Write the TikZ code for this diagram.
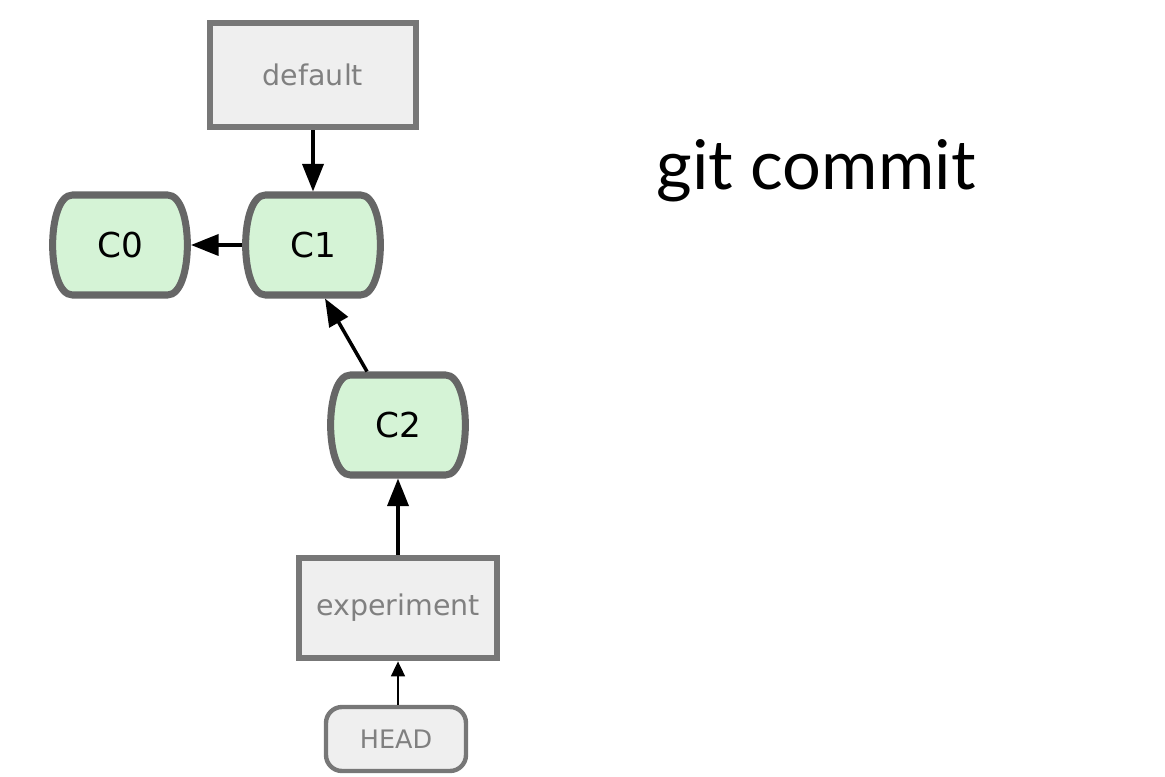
\documentclass[tikz,border=0pt]{standalone}
\usepackage{fontspec}
\setmainfont{DejaVu Sans}
\newfontfamily\titlefont{Lato}
\usetikzlibrary{arrows.meta,backgrounds,calc}

\definecolor{edgegray}{HTML}{666666}
\definecolor{boxedge}{HTML}{777777}
\definecolor{boxfill}{HTML}{EFEFEF}
\definecolor{commitfill}{HTML}{D5F3D6}
\definecolor{labelgray}{HTML}{808080}

\tikzset{
    commit/.style={minimum width=2.7cm, minimum height=2cm, inner sep=0pt, outer sep=0.07cm,
        font=\fontsize{19.5}{22}\selectfont},
    commit outline/.style={fill=commitfill, draw=edgegray, line width=4pt},
    branch/.style={minimum width=4cm, minimum height=2cm, inner sep=0pt, draw=boxedge,
        fill=boxfill, line width=3.7pt, text=labelgray, font=\fontsize{16.2}{18}\selectfont},
    headbox/.style={minimum width=2.8cm, minimum height=1.28cm, inner sep=0pt, draw=boxedge,
        fill=boxfill, line width=2.5pt, rounded corners=0.32cm, text=labelgray,
        font=\fontsize{14.5}{16}\selectfont},
    arr/.style={-{Triangle[length=0.55cm,width=0.42cm]}, line width=2pt},
    smallarr/.style={-{Triangle[length=0.3cm,width=0.27cm]}, line width=1.6pt}
}

\begin{document}
\begin{tikzpicture}
    \useasboundingbox (0,0) rectangle (23.3,-15.54);

    \node (default) at (6.26,-1.5) [branch, minimum width=4.12cm, minimum height=2.08cm] {default};
    \node (c0) at (2.4,-4.9) [commit] {C0};
    \node (c1) at (6.26,-4.9) [commit] {C1};
    \node (c2) at (7.96,-8.5) [commit] {C2};
    \node (experiment) at (7.96,-12.16) [branch, minimum width=3.96cm] {experiment};
    \node (head) at (7.92,-14.78) [headbox] {HEAD};

    \node (title) at (16.32,-3.8) [anchor=base, font=\titlefont\fontsize{39}{42}\selectfont] {git commit};

    % commit shapes behind the labels
    \begin{scope}[on background layer]
        \foreach \c in {c0,c1,c2}
            \draw[commit outline]
                ($(\c)+(-0.95,1)$) -- ($(\c)+(0.95,1)$)
                .. controls +(0.53,0) and +(0.53,0) .. ($(\c)+(0.95,-1)$)
                -- ($(\c)+(-0.95,-1)$)
                .. controls +(-0.53,0) and +(-0.53,0) .. cycle;
    \end{scope}

    \draw[arr] (default) -- (c1);
    \draw[arr] (c1) -- (c0);
    \draw[arr] ([xshift=-0.62cm]c2.north) -- ([xshift=0.24cm]c1.south);
    \draw[arr] (experiment) -- (c2);
    \draw[smallarr] (head.north -| experiment.south) -- (experiment);
\end{tikzpicture}
\end{document}
